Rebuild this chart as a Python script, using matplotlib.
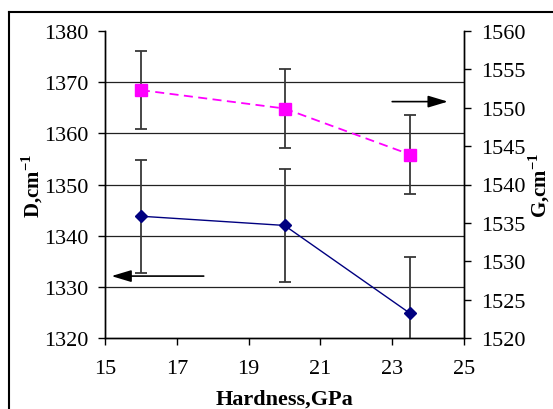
import matplotlib
matplotlib.use('Agg')
import matplotlib.pyplot as plt
from matplotlib.lines import Line2D

plt.rcParams['font.family'] = ['Liberation Serif', 'DejaVu Serif']
plt.rcParams['mathtext.fontset'] = 'custom'
plt.rcParams['mathtext.rm'] = 'Liberation Serif'
plt.rcParams['mathtext.bf'] = 'Liberation Serif:bold'

# data
hardness = [16.0, 20.0, 23.5]
d_band = [1343.8, 1342.0, 1324.8]
d_err = [11.0, 11.0, 11.0]
g_band = [1552.3, 1549.9, 1543.9]
g_err = [5.1, 5.1, 5.1]

x_ticks = [15, 17, 19, 21, 23, 25]
d_ticks = [1320, 1330, 1340, 1350, 1360, 1370, 1380]
g_ticks = [1520, 1525, 1530, 1535, 1540, 1545, 1550, 1555, 1560]

fs = 16

fig = plt.figure(figsize=(5.53, 4.10), dpi=100)
ax = fig.add_axes([105 / 553, 1 - 339 / 410, (464 - 105) / 553, (339 - 32) / 410])
ax2 = ax.twinx()

# horizontal gridlines at the left axis ticks
for v in d_ticks[1:-1]:
    ax.axhline(v, color='#222222', lw=0.9, zorder=0)

ax.errorbar(hardness, d_band, yerr=d_err, color='#000080', lw=1.0, marker='D', ms=6,
            ecolor='#383838', elinewidth=1.3, capsize=4, capthick=1.3, zorder=3)
ax2.errorbar(hardness, g_band, yerr=g_err, color='#ff00ff', lw=1.3, ls=(0, (5, 3)), marker='s', ms=9,
             ecolor='#383838', elinewidth=1.3, capsize=4, capthick=1.3, zorder=3)

# arrows pointing to the matching axis
arrow = dict(arrowstyle='-|>,head_length=1.0,head_width=0.3', color='black', lw=1.2,
             mutation_scale=12, shrinkA=0, shrinkB=0)
ax.annotate('', xy=(15.18, 1332.1), xytext=(17.75, 1332.1), arrowprops=arrow)
ax2.annotate('', xy=(24.55, 1550.8), xytext=(23.0, 1550.8), arrowprops=arrow)

ax.set_xlim(15, 25)
ax.set_ylim(1320, 1380)
ax2.set_ylim(1520, 1560)
ax.set_xticks(x_ticks)
ax.set_yticks(d_ticks)
ax2.set_yticks(g_ticks)

for a in (ax, ax2):
    a.spines['top'].set_visible(False)
    a.tick_params(labelsize=fs, direction='out', length=5, width=1, pad=7)
    for s in a.spines.values():
        s.set_linewidth(1.0)
ax.tick_params(axis='x', pad=10)

ax.set_xlabel('Hardness,GPa', fontsize=fs, fontweight='bold', labelpad=8)
ax.set_ylabel(r'D,cm$^{\mathbf{-1}}$', fontsize=15, fontweight='bold', labelpad=-1)
ax2.set_ylabel(r'G,cm$^{\mathbf{-1}}$', fontsize=15, fontweight='bold', rotation=90, labelpad=1)

# frame around the chart area (only left and top edges visible)
fig.add_artist(Line2D([9 / 553, 9 / 553], [0, 1 - 13 / 410], transform=fig.transFigure, color='black', lw=1.5))
fig.add_artist(Line2D([9 / 553, 1], [1 - 13 / 410, 1 - 13 / 410], transform=fig.transFigure, color='black', lw=1.5))

plt.savefig('out.png', dpi=100)
